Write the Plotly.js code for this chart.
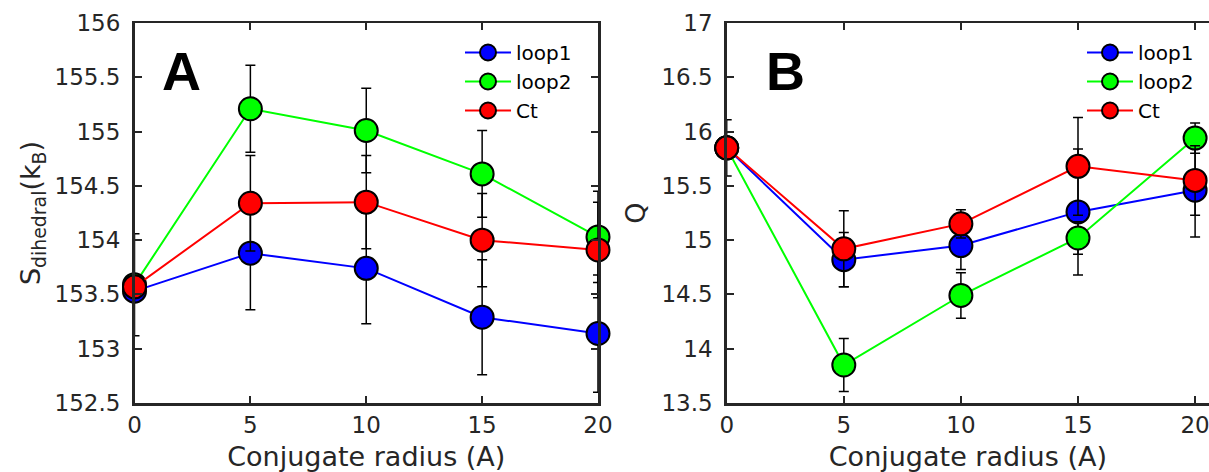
<!DOCTYPE html>
<html>
<head>
<meta charset="utf-8">
<script src="https://cdn.plot.ly/plotly-3.0.1.min.js"></script>
<style>html,body{margin:0;padding:0;background:#fff;}#chart{width:1209px;height:472px;}</style>
</head>
<body>
<div id="chart"></div>
<script>
// ---- data ----
const radius = [0, 5, 10, 15, 20];
const seriesNames = ['loop1', 'loop2', 'Ct'];
const seriesColors = ['#0000FF', '#00FF00', '#FF0000'];

// Panel A: S_dihedral (k_B)
const sLoop1 = [153.53, 153.88, 153.74, 153.29, 153.14];
const sLoop1Err = [0.08, 0.52, 0.51, 0.53, 0.54];
const sLoop2 = [153.59, 155.21, 155.01, 154.61, 154.03];
const sLoop2Err = [0.47, 0.40, 0.39, 0.40, 0.42];
const sCt = [153.57, 154.34, 154.35, 154.00, 153.91];
const sCtErr = [0.10, 0.44, 0.43, 0.43, 0.44];

// Panel B: Q
const qLoop1 = [15.85, 14.82, 14.95, 15.26, 15.46];
const qLoop1Err = [0.10, 0.25, 0.22, 0.58, 0.43];
const qLoop2 = [15.85, 13.85, 14.49, 15.02, 15.94];
const qLoop2Err = [0.10, 0.245, 0.21, 0.15, 0.14];
const qCt = [15.85, 14.92, 15.15, 15.68, 15.55];
const qCtErr = [0.26, 0.35, 0.13, 0.45, 0.32];

const FONT = 'DejaVu Sans, sans-serif';
const INK = '#262626';

function mkTrace(y, err, i, xa, ya, legend) {
  return {
    x: radius, y: y, type: 'scatter', mode: 'lines+markers',
    name: seriesNames[i], xaxis: xa, yaxis: ya, legend: legend,
    cliponaxis: false,
    line: {color: seriesColors[i], width: 2},
    marker: {color: seriesColors[i], size: 23, line: {color: '#000', width: 2}},
    error_y: {type: 'data', array: err, visible: true, color: '#000', thickness: 1.5, width: 5}
  };
}

const traces = [
  mkTrace(sLoop1, sLoop1Err, 0, 'x', 'y', 'legend'),
  mkTrace(sLoop2, sLoop2Err, 1, 'x', 'y', 'legend'),
  mkTrace(sCt, sCtErr, 2, 'x', 'y', 'legend'),
  mkTrace(qLoop1, qLoop1Err, 0, 'x2', 'y2', 'legend2'),
  mkTrace(qLoop2, qLoop2Err, 1, 'x2', 'y2', 'legend2'),
  mkTrace(qCt, qCtErr, 2, 'x2', 'y2', 'legend2')
];

const W = 1209, H = 472;
const yDom = [(H - 403) / H, (H - 23) / H];

const axCommon = {
  showline: true, linecolor: INK, linewidth: 2.5,
  ticks: 'inside', ticklen: 7, tickwidth: 2, tickcolor: INK,
  showgrid: false, zeroline: false,
  tickfont: {family: FONT, size: 23, color: INK},
  ticklabeloverflow: 'allow',
  fixedrange: true
};

const titleFont = {family: FONT, size: 27, color: INK};

const legendCommon = {
  xanchor: 'left', yanchor: 'top',
  bgcolor: 'rgba(0,0,0,0)', borderwidth: 0, itemwidth: 46,
  font: {family: FONT, size: 20, color: '#000'}, tracegroupgap: 0
};

const layout = {
  width: W, height: H,
  margin: {l: 0, r: 0, t: 0, b: 0},
  paper_bgcolor: '#fff', plot_bgcolor: '#fff',
  showlegend: true,
  font: {family: FONT, color: INK},
  xaxis: Object.assign({}, axCommon, {
    domain: [134.5 / W, 598 / W], range: [0, 20], tickvals: radius, mirror: 'ticks',
    anchor: 'y',
    title: {text: 'Conjugate radius (A)', font: titleFont, standoff: 14}
  }),
  yaxis: Object.assign({}, axCommon, {
    domain: yDom, range: [152.5, 156], dtick: 0.5, tick0: 152.5, mirror: 'ticks',
    anchor: 'x', ticklabelstandoff: 7,
    title: {text: 'S<sub>dihedral</sub>(k<sub>B</sub>)', font: titleFont, standoff: 6}
  }),
  xaxis2: Object.assign({}, axCommon, {
    domain: [726.7 / W, 1], range: [0, (W - 726.7) / 23.42], tickvals: radius, mirror: 'ticks',
    anchor: 'y2',
    title: {text: 'Conjugate radius (A)', font: titleFont, standoff: 14}
  }),
  yaxis2: Object.assign({}, axCommon, {
    domain: yDom, range: [13.5, 17], dtick: 0.5, tick0: 13.5, mirror: false,
    anchor: 'x2', ticklabelstandoff: 7,
    title: {text: 'Q', font: titleFont, standoff: 8}
  }),
  legend: Object.assign({}, legendCommon, {x: 460 / W, y: 1 - 33 / H}),
  legend2: Object.assign({}, legendCommon, {x: 1082 / W, y: 1 - 33 / H}),
  annotations: [
    {text: '<b>A</b>', xref: 'paper', yref: 'paper', x: 160 / W, y: 1 - 39 / H,
     xanchor: 'left', yanchor: 'top', showarrow: false,
     font: {family: 'Liberation Sans, Arial, sans-serif', size: 54, color: '#000'}},
    {text: '<b>B</b>', xref: 'paper', yref: 'paper', x: 764 / W, y: 1 - 39 / H,
     xanchor: 'left', yanchor: 'top', showarrow: false,
     font: {family: 'Liberation Sans, Arial, sans-serif', size: 54, color: '#000'}}
  ]
};

Plotly.newPlot('chart', traces, layout, {displayModeBar: false, staticPlot: true});
</script>
</body>
</html>
